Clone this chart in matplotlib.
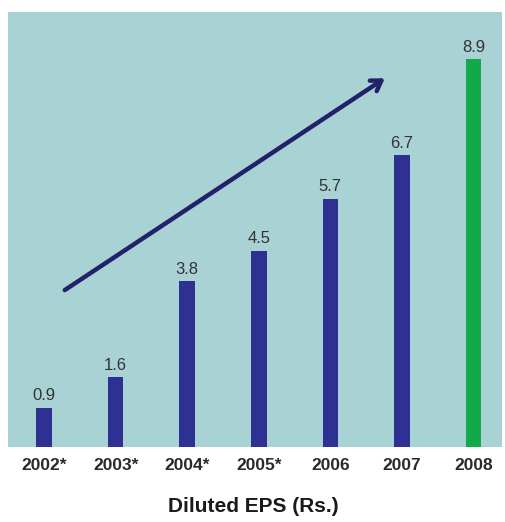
import matplotlib.pyplot as plt
import numpy as np

years = ['2002*', '2003*', '2004*', '2005*', '2006', '2007', '2008']
eps = [0.9, 1.6, 3.8, 4.5, 5.7, 6.7, 8.9]
bar_colors = ['#2e3192'] * 6 + ['#13a84a']

fig = plt.figure(figsize=(5.06, 5.22), dpi=100)
ax = fig.add_axes([8 / 506, 75 / 522, 494 / 506, 435 / 522])
ax.set_facecolor('#a9d2d4')

x = np.arange(len(years))
ax.bar(x, eps, width=0.22, color=bar_colors, zorder=2)

# value labels above the bars
for xi, v in zip(x, eps):
    ax.text(xi, v + 0.1, f'{v:.1f}', ha='center', va='bottom',
            fontsize=12, color='#333333', family='Liberation Sans')

# trend arrow
ax.annotate('', xy=(4.76, 8.46), xytext=(0.29, 3.6),
            arrowprops=dict(arrowstyle='->,head_length=0.7,head_width=0.45',
                            color='#22226a', lw=3.2, shrinkA=0, shrinkB=0),
            zorder=3)

ax.set_xlim(-0.503, 6.397)
ax.set_ylim(0, 9.98)
ax.set_yticks([])
ax.set_xticks(x)
ax.set_xticklabels(years, fontsize=12.5, fontweight='bold', color='#2a2a2a',
                   family='Liberation Sans')
ax.tick_params(axis='x', length=0, pad=8)
for s in ax.spines.values():
    s.set_visible(False)

fig.text(0.5, 16 / 522, 'Diluted EPS (Rs.)', ha='center', va='center',
         fontsize=15, fontweight='bold', color='#1a1a1a',
         family='Liberation Sans')

fig.savefig('out.png', dpi=100)
